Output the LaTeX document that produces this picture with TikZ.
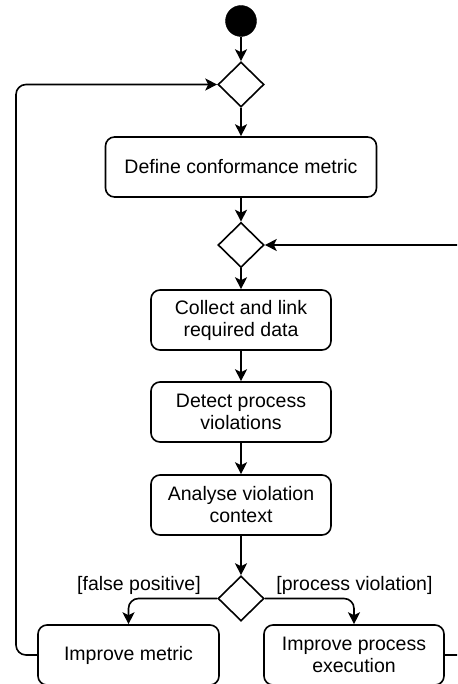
\documentclass[tikz,border=0pt]{standalone}
\usepackage{fontspec}
\setmainfont{Liberation Sans}
\usetikzlibrary{arrows.meta,shapes.geometric}

\begin{document}
\begin{tikzpicture}[
  x=1pt, y=-1pt,
  every node/.style={font=\fontsize{19.5}{22}\selectfont},
  act/.style={draw, rounded corners=9pt, line width=1.6pt, minimum height=60pt,
    minimum width=180pt, align=center, inner sep=0pt},
  dec/.style={draw, diamond, minimum width=46pt, minimum height=45pt,
    inner sep=0pt, line width=1.6pt},
  startnode/.style={circle, fill=black, draw=black, minimum size=31pt, inner sep=0pt},
  flow/.style={-{Stealth[length=12pt,width=12pt,inset=3pt]}, line width=1.6pt},
  loop/.style={flow, rounded corners=10pt},
  guard/.style={inner sep=0pt}
]
\useasboundingbox (0,0) rectangle (457,684);
\clip (0,0) rectangle (457,684);

% nodes
\node[startnode] (s) at (241,21) {};
\node[dec] (d1) at (241,84.5) {};
\node[act, minimum width=271pt] (b1) at (241,167) {Define conformance metric};
\node[dec] (d2) at (241,245) {};
\node[act] (b2) at (241,320) {Collect and link\\required data};
\node[act] (b3) at (241,412) {Detect process\\violations};
\node[act] (b4) at (241,505) {Analyse violation\\context};
\node[dec] (d3) at (241,598.5) {};
\node[act, minimum width=181pt] (b5) at (128.5,655) {Improve metric};
\node[act] (b6) at (354,655) {Improve process\\execution};

% guards
\node[guard] (gfp) at (139,585) {[false positive]};
\node[guard] (gpv) at (354.5,585) {[process violation]};

% loop columns
\coordinate (lx) at (16,0);
\coordinate (rx) at (472,0);

% main flow
\draw[flow] (s) -- (d1);
\draw[flow] (d1) -- (b1);
\draw[flow] (b1) -- (d2);
\draw[flow] (d2) -- (b2);
\draw[flow] (b2) -- (b3);
\draw[flow] (b3) -- (b4);
\draw[flow] (b4) -- (d3);

% branches
\draw[loop] (d3.west) -| (b5.north);
\draw[loop] (d3.east) -| (b6.north);

% feedback loops
\draw[loop] (b5.west) -- (b5.west -| lx) -- (d1.west -| lx) -- (d1.west);
\draw[loop] (b6.east) -- (b6.east -| rx) -- (d2.east -| rx) -- (d2.east);
\end{tikzpicture}
\end{document}
